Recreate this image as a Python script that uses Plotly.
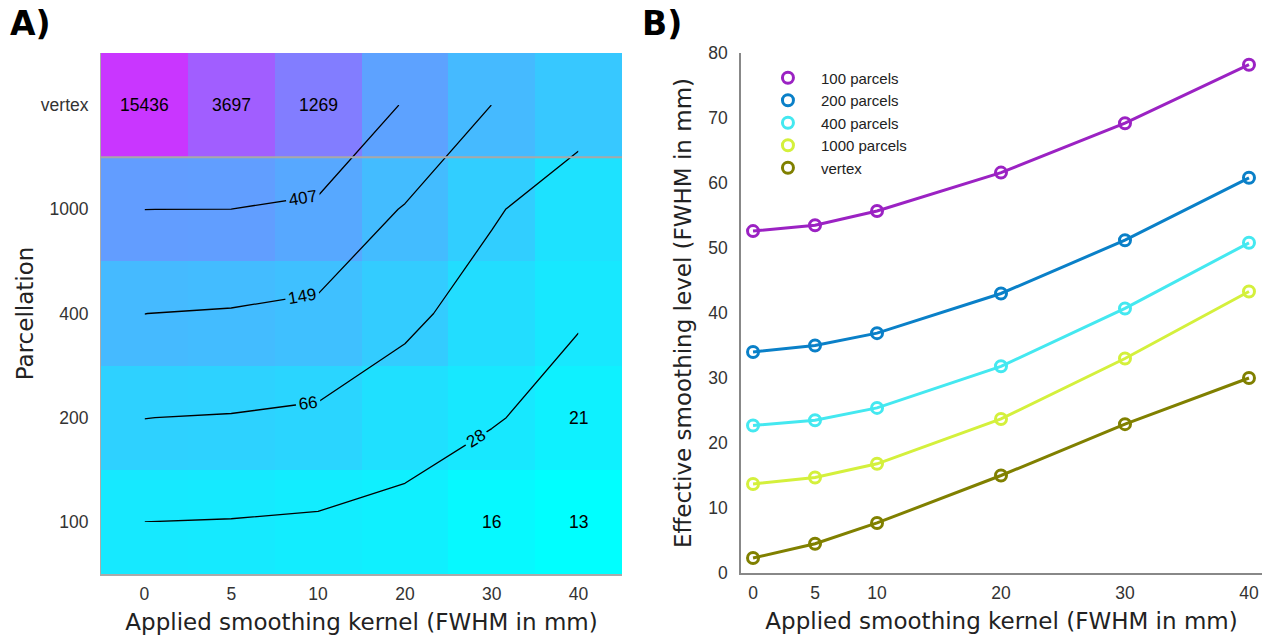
import numpy as np
import plotly.graph_objects as go

# ---------------- data ----------------
kernels = [0, 5, 10, 20, 30, 40]
parcellations = ["100", "200", "400", "1000", "vertex"]

# panel A: values per parcellation row
z_100 = [28, 26.9, 24.8, 22, 16, 13]
z_200 = [66.4, 63.1, 56.6, 38.2, 29.4, 21]
z_400 = [149.5, 135, 119, 77.4, 42.9, 29.6]
z_1000 = [408, 400, 278, 138, 71.8, 35.5]
z_vertex = [15436, 3697, 1269, 342, 148, 90]
contour_levels = [28, 66, 149, 407]
# cells with printed values: (kernel index, parcellation index)
annotated_cells = [(0, 4), (1, 4), (2, 4), (4, 0), (5, 0), (5, 1)]

# panel B
series_names = ["100 parcels", "200 parcels", "400 parcels", "1000 parcels", "vertex"]
eff_100 = [52.6, 53.5, 55.7, 61.6, 69.2, 78.2]
eff_200 = [34.0, 35.0, 36.9, 43.0, 51.2, 60.8]
eff_400 = [22.7, 23.5, 25.4, 31.8, 40.7, 50.8]
eff_1000 = [13.7, 14.7, 16.8, 23.7, 33.0, 43.3]
eff_vertex = [2.3, 4.5, 7.7, 15.0, 22.9, 30.0]
series_colors = ["#9b22c3", "#0a80c8", "#44e8f0", "#d4f03c", "#808000"]

# ---------------- figure ----------------
Z = np.array([z_100, z_200, z_400, z_1000, z_vertex], dtype=float)
xi = list(range(len(kernels)))
yi = list(range(len(parcellations)))

cool = [[0, "rgb(0,255,255)"], [1, "rgb(255,0,255)"]]
tickfont = dict(family="Liberation Sans", size=17.5, color="#333")
titlefont = dict(family="DejaVu Sans", size=23, color="#222")

fig = go.Figure()
fig.add_trace(go.Heatmap(
    x=xi, y=yi, z=np.log10(Z), colorscale=cool,
    zmin=np.log10(13), zmax=5.01, showscale=False, xaxis="x", yaxis="y",
    hoverinfo="skip"))

for lev in contour_levels:
    fig.add_trace(go.Contour(
        x=xi, y=yi, z=Z, autocontour=False,
        contours=dict(start=lev, end=lev, size=1, coloring="none",
                      showlabels=True,
                      labelfont=dict(family="Liberation Sans", size=17, color="black")),
        line=dict(color="black", width=1.3, smoothing=0),
        showscale=False, showlegend=False, hoverinfo="skip",
        xaxis="x", yaxis="y"))

annotations = []
for (ci, ri) in annotated_cells:
    annotations.append(dict(
        x=xi[ci], y=yi[ri], xref="x", yref="y", text=f"{Z[ri, ci]:.0f}",
        showarrow=False, font=dict(family="Liberation Sans", size=17.5, color="black")))

all_eff = [eff_100, eff_200, eff_400, eff_1000, eff_vertex]
for name, ys, col in zip(series_names, all_eff, series_colors):
    fig.add_trace(go.Scatter(
        x=kernels, y=ys, mode="lines+markers", name=name,
        line=dict(color=col, width=3),
        marker=dict(symbol="circle-open", size=11, color=col, line=dict(width=3, color=col)),
        showlegend=False, xaxis="x2", yaxis="y2"))
    fig.add_trace(go.Scatter(
        x=[None], y=[None], mode="markers", name=name,
        marker=dict(symbol="circle-open", size=11, color=col, line=dict(width=3, color=col)),
        showlegend=True, xaxis="x2", yaxis="y2"))

annotations += [
    dict(x=0.006, y=0.997, xref="paper", yref="paper", xanchor="left", yanchor="top",
         text="<b>A)</b>", showarrow=False, font=dict(family="DejaVu Sans", size=33, color="black")),
    dict(x=0.506, y=0.997, xref="paper", yref="paper", xanchor="left", yanchor="top",
         text="<b>B)</b>", showarrow=False, font=dict(family="DejaVu Sans", size=33, color="black")),
]

fig.update_layout(
    width=1265, height=640,
    margin=dict(l=0, r=0, t=0, b=0, autoexpand=False),
    paper_bgcolor="white", plot_bgcolor="white",
    annotations=annotations,
    xaxis=dict(domain=[101/1265, 622/1265], range=[-0.5, 5.5], automargin=False,
               tickvals=xi, ticktext=[str(k) for k in kernels],
               tickfont=tickfont, showgrid=False, zeroline=False,
               showline=True, linecolor="#aaaaaa", linewidth=1.5,
               ticks="outside", ticklen=3, tickcolor="rgba(0,0,0,0)",
               title=dict(text="Applied smoothing kernel (FWHM in mm)", font=titlefont, standoff=11)),
    yaxis=dict(domain=[1-574/640, 1-53/640], range=[-0.5, 4.5], automargin=False,
               tickvals=yi, ticktext=parcellations,
               tickfont=tickfont, showgrid=False, zeroline=False,
               showline=True, linecolor="#aaaaaa", linewidth=1,
               ticks="outside", ticklen=8, tickcolor="rgba(0,0,0,0)",
               title=dict(text="Parcellation", font=titlefont, standoff=0)),
    xaxis2=dict(domain=[741/1265, 1262/1265], range=[-0.97, 41.05], automargin=False,
                tickvals=kernels, tickfont=tickfont, showgrid=False, zeroline=False,
                showline=True, linecolor="#888888", linewidth=1.5,
                ticks="outside", ticklen=3, tickcolor="rgba(0,0,0,0)",
                title=dict(text="Applied smoothing kernel (FWHM in mm)", font=titlefont, standoff=11),
                anchor="y2"),
    yaxis2=dict(domain=[1-573/640, 1-53/640], range=[0, 80], dtick=10, automargin=False,
                tickfont=tickfont, showgrid=False, zeroline=False,
                showline=True, linecolor="#888888", linewidth=1.5,
                ticks="outside", ticklen=8, tickcolor="rgba(0,0,0,0)",
                title=dict(text="Effective smoothing level (FWHM in mm)", font=titlefont, standoff=10),
                anchor="x2"),
    legend=dict(x=0.5968, y=0.904, xanchor="left", yanchor="top",
                font=dict(family="Liberation Sans", size=15, color="#222"),
                bgcolor="rgba(0,0,0,0)", itemwidth=56, tracegroupgap=0),
    shapes=[dict(type="line", xref="x", yref="y", x0=-0.5, x1=5.5, y0=3.5, y1=3.5,
                 line=dict(color="#a8a8a8", width=2))],
)

fig.write_html("out.html", post_script="document.body.style.margin='0';",
               config={"displayModeBar": False})
